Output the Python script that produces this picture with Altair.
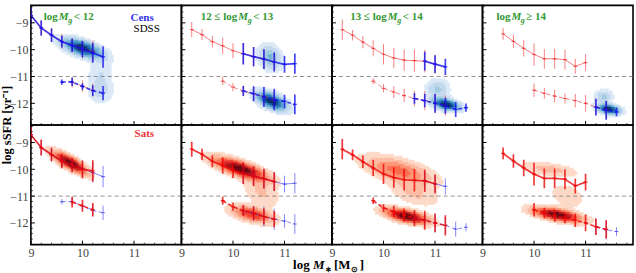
import altair as alt
import numpy as np
import pandas as pd

# ---------------------------------------------------------------
# Median log sSFR in bins of log M*, star-forming (SF) and
# quiescent (Q) sequences, for centrals and satellites in four
# halo-mass groups.  *_E are the error-bar half lengths.
# ---------------------------------------------------------------
# group 1 : log Mg < 12
G1_CENS_SF_X = [9.0, 9.2, 9.4, 9.6, 9.8, 10.0, 10.2, 10.4]
G1_CENS_SF_Y = [-8.72, -9.19, -9.46, -9.70, -9.84, -9.98, -10.12, -10.27]
G1_CENS_SF_E = [0.30, 0.28, 0.25, 0.22, 0.25, 0.30, 0.37, 0.40]
G1_CENS_Q_X = [9.6, 9.8, 10.0, 10.2, 10.4]
G1_CENS_Q_Y = [-11.21, -11.20, -11.37, -11.53, -11.62]
G1_CENS_Q_E = [0.10, 0.15, 0.12, 0.20, 0.27]
G1_SATS_SF_X = [9.0, 9.2, 9.4, 9.6, 9.8, 10.0, 10.2]
G1_SATS_SF_Y = [-8.71, -9.19, -9.45, -9.69, -9.84, -10.00, -10.06]
G1_SATS_SF_E = [0.30, 0.30, 0.25, 0.27, 0.27, 0.33, 0.40]
G1_SATS_Q_X = [9.8, 10.0, 10.2]
G1_SATS_Q_Y = [-11.22, -11.36, -11.51]
G1_SATS_Q_E = [0.20, 0.22, 0.25]

# group 2 : 12 <= log Mg < 13
G2_CENS_SF_X = [10.2, 10.4, 10.6, 10.8, 11.0, 11.2]
G2_CENS_SF_Y = [-10.15, -10.26, -10.35, -10.46, -10.55, -10.52]
G2_CENS_SF_E = [0.40, 0.36, 0.37, 0.35, 0.31, 0.38]
G2_CENS_Q_X = [10.2, 10.4, 10.6, 10.8, 11.0, 11.2]
G2_CENS_Q_Y = [-11.54, -11.64, -11.76, -11.86, -11.93, -12.04]
G2_CENS_Q_E = [0.19, 0.28, 0.37, 0.40, 0.25, 0.37]
G2_SATS_SF_X = [9.2, 9.4, 9.6, 9.8, 10.0, 10.2, 10.4, 10.6, 10.8]
G2_SATS_SF_Y = [-9.25, -9.44, -9.70, -9.86, -10.04, -10.15, -10.26, -10.35, -10.46]
G2_SATS_SF_E = [0.28, 0.21, 0.22, 0.31, 0.28, 0.40, 0.36, 0.37, 0.35]
G2_SATS_Q_X = [9.8, 10.0, 10.2, 10.4, 10.6, 10.8]
G2_SATS_Q_Y = [-11.17, -11.40, -11.54, -11.64, -11.76, -11.86]
G2_SATS_Q_E = [0.15, 0.15, 0.20, 0.25, 0.30, 0.30]

# group 3 : 13 <= log Mg < 14
G3_CENS_SF_X = [10.8, 11.0, 11.2]
G3_CENS_SF_Y = [-10.43, -10.54, -10.64]
G3_CENS_SF_E = [0.35, 0.33, 0.30]
G3_CENS_Q_X = [10.6, 10.8, 11.0, 11.2, 11.4, 11.6]
G3_CENS_Q_Y = [-11.82, -11.90, -12.00, -12.09, -12.23, -12.16]
G3_CENS_Q_E = [0.20, 0.25, 0.35, 0.30, 0.28, 0.15]
G3_SATS_SF_X = [9.2, 9.4, 9.6, 9.8, 10.0, 10.2, 10.4, 10.6, 10.8, 11.0]
G3_SATS_SF_Y = [-9.25, -9.46, -9.72, -9.95, -10.17, -10.31, -10.39, -10.41, -10.43, -10.54]
G3_SATS_SF_E = [0.38, 0.20, 0.23, 0.30, 0.38, 0.38, 0.40, 0.42, 0.42, 0.35]
G3_SATS_Q_X = [9.8, 10.0, 10.2, 10.4, 10.6, 10.8, 11.0, 11.2]
G3_SATS_Q_Y = [-11.17, -11.44, -11.58, -11.71, -11.82, -11.90, -12.00, -12.09]
G3_SATS_Q_E = [0.12, 0.15, 0.22, 0.25, 0.30, 0.35, 0.35, 0.38]

# group 4 : log Mg >= 14
G4_CENS_SF_X = []
G4_CENS_SF_Y = []
G4_CENS_SF_E = []
G4_CENS_Q_X = [11.2, 11.4, 11.6]
G4_CENS_Q_Y = [-12.14, -12.26, -12.32]
G4_CENS_Q_E = [0.31, 0.35, 0.16]
G4_SATS_SF_X = [9.4, 9.6, 9.8, 10.0, 10.2, 10.4, 10.6, 10.8, 11.0]
G4_SATS_SF_Y = [-9.41, -9.69, -9.95, -10.18, -10.34, -10.34, -10.37, -10.62, -10.48]
G4_SATS_SF_E = [0.22, 0.25, 0.31, 0.42, 0.37, 0.37, 0.37, 0.28, 0.31]
G4_SATS_Q_X = [10.0, 10.2, 10.4, 10.6, 10.8, 11.0, 11.2, 11.4]
G4_SATS_Q_Y = [-11.51, -11.63, -11.73, -11.82, -11.90, -12.00, -12.14, -12.24]
G4_SATS_Q_E = [0.25, 0.20, 0.23, 0.19, 0.25, 0.31, 0.31, 0.34]

# SDSS density clouds, one list of Gaussian blobs per panel:
# (centre x, centre y, sigma x, sigma y, correlation, weight)
DENS_CENS_G1 = [(10.00, -9.95, 0.25, 0.23, -0.6, 1.0),
                (10.35, -11.50, 0.15, 0.30, 0.0, 0.22),
                (10.35, -10.80, 0.15, 0.30, 0.0, 0.14)]
DENS_CENS_G2 = [(10.75, -11.92, 0.19, 0.22, -0.55, 1.0),
                (10.72, -10.30, 0.14, 0.30, -0.2, 0.42)]
DENS_CENS_G3 = [(11.22, -12.05, 0.17, 0.14, -0.4, 1.0),
                (11.05, -11.50, 0.14, 0.25, 0.0, 0.30)]
DENS_CENS_G4 = [(11.45, -12.22, 0.14, 0.12, -0.3, 1.0),
                (11.35, -11.75, 0.11, 0.15, 0.0, 0.30)]
DENS_SATS_G1 = [(9.76, -9.76, 0.21, 0.26, -0.8, 1.0)]
DENS_SATS_G2 = [(10.14, -9.98, 0.33, 0.27, -0.75, 1.0),
                (10.38, -11.68, 0.25, 0.20, -0.5, 0.65),
                (10.55, -10.85, 0.22, 0.35, -0.4, 0.18)]
DENS_SATS_G3 = [(10.30, -10.05, 0.42, 0.33, -0.6, 0.45),
                (10.45, -11.75, 0.27, 0.18, -0.6, 1.0),
                (10.60, -10.90, 0.30, 0.30, -0.5, 0.18)]
DENS_SATS_G4 = [(10.30, -10.00, 0.33, 0.17, -0.5, 0.22),
                (10.45, -11.70, 0.30, 0.17, -0.6, 1.0),
                (10.65, -11.00, 0.22, 0.30, -0.3, 0.13)]

GROUP_TITLES = [("log ", "< 12"), ("12 ≤ log ", "< 13"),
                ("13 ≤ log ", "< 14"), ("log ", "≥ 14")]
X_TICKS = [9, 10, 11]
X_MINOR = [9.2, 9.4, 9.6, 9.8, 10.2, 10.4, 10.6, 10.8, 11.2, 11.4, 11.6, 11.8]
Y_TICKS = [-12, -11, -10, -9]
Y_MINOR = [-12.6, -12.4, -12.2, -11.8, -11.6, -11.4, -11.2, -10.8, -10.6, -10.4,
           -10.2, -9.8, -9.6, -9.4, -9.2, -8.8, -8.6, -8.4]
QUIESCENT_CUT = -11

X_DOMAIN = [9.0, 11.92]
Y_DOMAIN = [-12.81, -8.35]
LEVELS = [0.06, 0.16, 0.28, 0.40, 0.52, 0.64, 0.76, 0.88]
BLUES = ["#dbe9f6", "#c2d9ee", "#a0cbe2", "#75b4d8", "#4c99ca", "#2a7aba", "#115ca5", "#08306b"]
REDS = ["#fdd9c6", "#fcbba1", "#fc9474", "#fb6b4b", "#ef3d2d", "#cf1c1f", "#a50f15", "#67000d"]

BLUE = "#1010f0"
RED = "#ee0000"
GREEN = "#339933"
SERIF = "Liberation Serif"
W, H = 151, 120

# ---- tidy table of the median lines ----
rows = []
ns = globals()
for g in range(1, 5):
    for pop in ("CENS", "SATS"):
        for seq in ("SF", "Q"):
            xs = ns[f"G{g}_{pop}_{seq}_X"]
            ys = ns[f"G{g}_{pop}_{seq}_Y"]
            es = ns[f"G{g}_{pop}_{seq}_E"]
            for x, y, e in zip(xs, ys, es):
                rows.append(dict(group=g, pop=pop.lower(), seq=seq, x=x, y=y,
                                 lo=y - e, hi=y + e))
lines = pd.DataFrame(rows)

# ---- density grids, binned into filled contour levels ----
DX, DY = 0.04, 0.075
gx = np.arange(X_DOMAIN[0] + DX / 2, X_DOMAIN[1], DX)
gy = np.arange(Y_DOMAIN[0] + DY / 2, Y_DOMAIN[1], DY)
MX, MY = np.meshgrid(gx, gy)


def density_table(blobs, palette):
    z = np.zeros_like(MX)
    for cx, cy, sx, sy, rho, w in blobs:
        u = (MX - cx) / sx
        v = (MY - cy) / sy
        q = (u * u - 2 * rho * u * v + v * v) / (1 - rho * rho)
        z += w * np.exp(-0.5 * q)
    z /= z.max()
    lvl = np.searchsorted(LEVELS, z.ravel(), side="right")
    keep = lvl > 0
    d = pd.DataFrame({"xc": MX.ravel()[keep], "yc": MY.ravel()[keep], "lvl": lvl[keep]})
    d["x0"], d["x1"] = d.xc - DX / 2, d.xc + DX / 2
    d["y0"], d["y1"] = d.yc - DY / 2, d.yc + DY / 2
    d["fill"] = [palette[i - 1] for i in d.lvl]
    return d.sort_values("lvl")


XS = alt.Scale(domain=X_DOMAIN, nice=False, zero=False)
YS = alt.Scale(domain=Y_DOMAIN, nice=False, zero=False)


def text_layer(txt, x, y, color="black", size=11, weight="bold", style="normal",
               align="left", angle=0, baseline="alphabetic"):
    return alt.Chart(pd.DataFrame({"t": [txt]})).mark_text(
        font=SERIF, fontSize=size, fontWeight=weight, fontStyle=style, color=color,
        align=align, baseline=baseline, angle=angle
    ).encode(text="t:N", x=alt.value(x), y=alt.value(y))


def panel(pop, g):
    bottom = pop == "sats"
    first = g == 1
    axis_kw = dict(ticks=False, domain=False, grid=False, labelFont=SERIF,
                   labelFontSize=12, labelColor="#444", labelOverlap=False, title=None)
    xax = alt.Axis(values=X_TICKS, labelFlush=False, labelPadding=3, **axis_kw) if bottom else None
    yax = alt.Axis(values=Y_TICKS, labelPadding=3, **axis_kw) if first else None

    def X(f):
        return alt.X(f"{f}:Q", scale=XS, axis=xax)

    def Y(f):
        return alt.Y(f"{f}:Q", scale=YS, axis=yax)

    blobs = ns[f"DENS_{pop.upper()}_G{g}"]
    dens = density_table(blobs, BLUES if pop == "cens" else REDS)
    layers = [
        alt.Chart(dens).mark_rect(strokeWidth=0.5, clip=True).encode(
            x=X("x0"), x2="x1", y=Y("y0"), y2="y1",
            color=alt.Color("fill:N", scale=None),
            stroke=alt.Stroke("fill:N", scale=None)),
        alt.Chart(pd.DataFrame({"v": [QUIESCENT_CUT]})).mark_rule(
            color="#777", strokeWidth=0.8, strokeDash=[4, 3]).encode(y=Y("v")),
    ]

    other = "sats" if pop == "cens" else "cens"
    for p, bold in ((other, False), (pop, True)):
        col = BLUE if p == "cens" else RED
        op = 0.78 if bold else 0.5
        sw = 1.7 if bold else 1.0
        d = lines[(lines.group == g) & (lines["pop"] == p)]
        if d.empty:
            continue
        for seq, dash in (("SF", None), ("Q", [4, 2.5])):
            sub = d[d.seq == seq]
            if sub.empty:
                continue
            kw = dict(color=col, opacity=op, strokeWidth=sw, clip=True)
            if dash:
                kw["strokeDash"] = dash
            layers.append(alt.Chart(sub).mark_line(**kw).encode(x=X("x"), y=Y("y")))
        layers.append(alt.Chart(d).mark_rule(color=col, opacity=op, strokeWidth=sw, clip=True)
                      .encode(x=X("x"), y=Y("lo"), y2="hi"))
        layers.append(alt.Chart(d).mark_tick(orient="horizontal", color=col, opacity=op,
                                             size=4, thickness=1.2, clip=True)
                      .encode(x=X("x"), y=Y("y")))

    # inward major and minor ticks along the left and bottom frame
    layers.append(alt.Chart(pd.DataFrame({"v": Y_TICKS})).mark_rule(color="black", strokeWidth=1)
                  .encode(y=Y("v"), x=alt.value(0), x2=alt.value(4)))
    layers.append(alt.Chart(pd.DataFrame({"v": Y_MINOR})).mark_rule(color="black", strokeWidth=0.7)
                  .encode(y=Y("v"), x=alt.value(0), x2=alt.value(2)))
    layers.append(alt.Chart(pd.DataFrame({"v": X_TICKS})).mark_rule(color="black", strokeWidth=1)
                  .encode(x=X("v"), y=alt.value(H), y2=alt.value(H - 4)))
    layers.append(alt.Chart(pd.DataFrame({"v": X_MINOR})).mark_rule(color="black", strokeWidth=0.7)
                  .encode(x=X("v"), y=alt.value(H), y2=alt.value(H - 2)))

    if not bottom:
        pre, post = GROUP_TITLES[g - 1]
        mx = {1: 28, 2: 57, 3: 56, 4: 29}[g]
        layers += [
            text_layer(pre, mx - 1, 15, GREEN, align="right"),
            text_layer("M", mx, 15, GREEN, style="italic"),
            text_layer("g", mx + 9.5, 18, GREEN, size=8, style="italic"),
            text_layer(post, mx + 15, 15, GREEN),
        ]
    if first and not bottom:
        layers += [text_layer("Cens", 100, 16, "#3535e5"),
                   text_layer("SDSS", 103, 27, "black", weight="normal"),
                   text_layer("log sSFR [yr⁻¹]", -24, H, "black", size=12.5,
                              angle=270, align="center", baseline="middle")]
    if first and bottom:
        layers.append(text_layer("Sats", 104, 12, "#e83535"))
    if bottom and g == 2:
        layers += [text_layer("log", 112, 144, size=13),
                   text_layer("M", 132, 144, size=13, style="italic"),
                   text_layer("∗", 144, 147, size=8),
                   text_layer("[M", 153, 144, size=13),
                   text_layer("⊙", 170, 147, size=8),
                   text_layer("]", 179, 144, size=13)]

    return alt.layer(*layers).properties(width=W, height=H)


panels = [panel("cens", g) for g in range(1, 5)] + [panel("sats", g) for g in range(1, 5)]

chart = alt.concat(*panels, columns=4, spacing=0, bounds="flush").properties(
    padding={"left": 0, "top": 4, "right": 1, "bottom": 1}
).configure_view(stroke="black", strokeWidth=1.6)

chart.save("out.html", embed_options={"renderer": "svg", "actions": False})
